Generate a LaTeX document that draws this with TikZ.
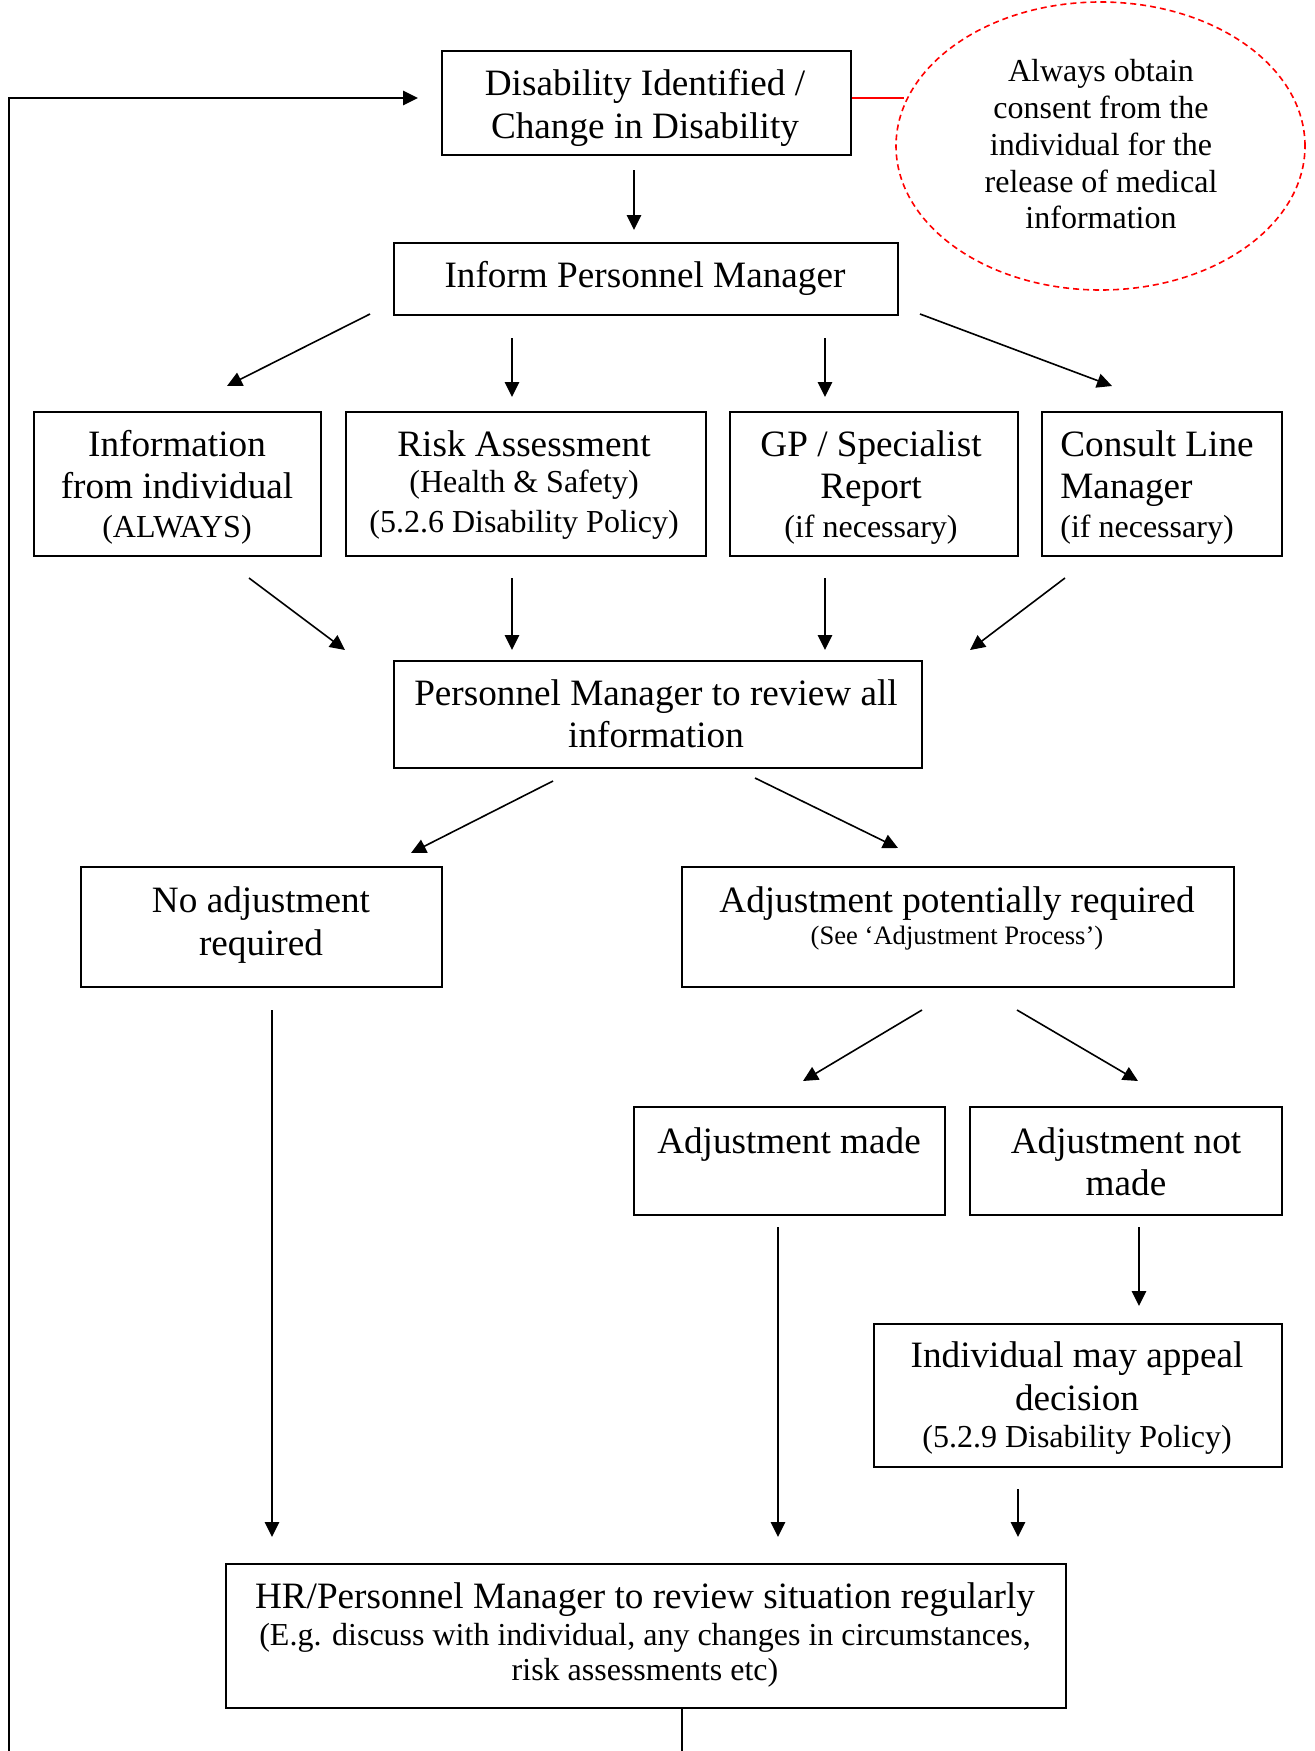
\documentclass[tikz,border=0pt]{standalone}
\usepackage{fontspec}
\setmainfont{Liberation Serif}
\usetikzlibrary{arrows.meta,shapes.geometric}
\begin{document}
\begin{tikzpicture}[x=0.5pt,y=-0.5pt,
  box/.style={draw,line width=1.1pt,rectangle,inner sep=0pt,anchor=north west},
  txt/.style={anchor=base,inner sep=0pt,font=\fontsize{18.6}{22}\selectfont},
  sub/.style={font=\fontsize{16}{19}\selectfont},
  small/.style={font=\fontsize{13.3}{16}\selectfont},
  arr/.style={line width=0.8pt,-{Triangle[length=7.5pt,width=7.2pt]}},
  ln/.style={line width=0.8pt},
  redln/.style={line width=0.9pt,red},
  ell/.style={ellipse,draw=red,dashed,dash pattern=on 3pt off 2pt,line width=0.8pt,inner sep=0pt}]
\useasboundingbox (0,0) rectangle (1314,1751);
\newcommand\pbox[5]{\node[box,minimum width=#4*0.5pt,minimum height=#5*0.5pt] (#1) at (#2,#3) {};}
% boxes
\pbox{b1}{441}{50}{409}{104}
\pbox{b2}{393}{242}{504}{72}
\pbox{b3}{33}{411}{287}{144}
\pbox{b4}{345}{411}{360}{144}
\pbox{b5}{729}{411}{288}{144}
\pbox{b6}{1041}{411}{240}{144}
\pbox{b7}{393}{660}{528}{107}
\pbox{b8}{80}{866}{361}{120}
\pbox{b9}{681}{866}{552}{120}
\pbox{b10}{633}{1106}{311}{108}
\pbox{b11}{969}{1106}{312}{108}
\pbox{b12}{873}{1323}{408}{143}
\pbox{b13}{225}{1563}{840}{144}
\node[ell,minimum width=204.5pt,minimum height=144pt] (el) at (1100.5,146) {};
% texts
\node[txt] (t1a) at (645,95) {Disability Identified /};
\node[txt] (t1b) at (645,138) {Change in Disability};
\node[txt] (t2a) at (645,287) {Inform Personnel Manager};
\node[txt] (t3a) at (177,456) {Information};
\node[txt] (t3b) at (177,498) {from individual};
\node[txt,sub] (t3c) at (177,537) {(ALWAYS)};
\node[txt] (t4a) at (524,456) {Risk Assessment};
\node[txt,sub] (t4b) at (524,492) {(Health \& Safety)};
\node[txt,sub] (t4c) at (524,532) {(5.2.6 Disability Policy)};
\node[txt] (t5a) at (871,456) {GP / Specialist};
\node[txt] (t5b) at (871,498) {Report};
\node[txt,sub] (t5c) at (871,537) {(if necessary)};
\node[txt,anchor=base west] (t6a) at (1060,456) {Consult Line};
\node[txt,anchor=base west] (t6b) at (1060,498) {Manager};
\node[txt,sub,anchor=base west] (t6c) at (1060,537) {(if necessary)};
\node[txt] (t7a) at (656,705) {Personnel Manager to review all};
\node[txt] (t7b) at (656,747) {information};
\node[txt] (t8a) at (261,912) {No adjustment};
\node[txt] (t8b) at (261,955) {required};
\node[txt] (t9a) at (957,912) {Adjustment potentially required};
\node[txt,small] (t9b) at (957,944) {(See ‘Adjustment Process’)};
\node[txt] (t10a) at (789,1153) {Adjustment made};
\node[txt] (t11a) at (1126,1153) {Adjustment not};
\node[txt] (t11b) at (1126,1195) {made};
\node[txt] (t12a) at (1077,1367) {Individual may appeal};
\node[txt] (t12b) at (1077,1410) {decision};
\node[txt,sub] (t12c) at (1077,1447) {(5.2.9 Disability Policy)};
\node[txt] (t13a) at (645,1608) {HR/Personnel Manager to review situation regularly};
\node[txt,sub] (t13b) at (645,1645) {(E.g. discuss with individual, any changes in circumstances,};
\node[txt,sub] (t13c) at (645,1680) {risk assessments etc)};
\node[txt,sub] (te1) at (1101,81) {Always obtain};
\node[txt,sub] (te2) at (1101,118) {consent from the};
\node[txt,sub] (te3) at (1101,155) {individual for the};
\node[txt,sub] (te4) at (1101,192) {release of medical};
\node[txt,sub] (te5) at (1101,228) {information};
% red link
\coordinate (rl) at (904,98);
\draw[redln] (b1.east |- rl) -- (rl);
% arrow end points
\coordinate (a1s) at (634,170);  \coordinate (a1e) at (634,230);
\coordinate (a2s) at (370,314);  \coordinate (a2e) at (227,386);
\coordinate (a3s) at (512,338);  \coordinate (a3e) at (512,397);
\coordinate (a4s) at (825,338);  \coordinate (a4e) at (825,397);
\coordinate (a5s) at (920,314);  \coordinate (a5e) at (1112,386);
\coordinate (a6s) at (249,578);  \coordinate (a6e) at (345,650);
\coordinate (a7s) at (512,578);  \coordinate (a7e) at (512,650);
\coordinate (a8s) at (825,578);  \coordinate (a8e) at (825,650);
\coordinate (a9s) at (1065,578); \coordinate (a9e) at (970,650);
\coordinate (a10s) at (553,781); \coordinate (a10e) at (411,853);
\coordinate (a11s) at (755,778); \coordinate (a11e) at (898,848);
\coordinate (a12s) at (272,1010); \coordinate (a12e) at (272,1537);
\coordinate (a13s) at (922,1010); \coordinate (a13e) at (803,1081);
\coordinate (a14s) at (1017,1010); \coordinate (a14e) at (1138,1081);
\coordinate (a15s) at (778,1227); \coordinate (a15e) at (778,1537);
\coordinate (a16s) at (1139,1227); \coordinate (a16e) at (1139,1306);
\coordinate (a17s) at (1018,1489); \coordinate (a17e) at (1018,1537);
\foreach \i in {1,...,17} \draw[arr] (a\i s) -- (a\i e);
% feedback loop
\coordinate (fbB) at (9,1751);
\coordinate (fbT) at (9,98);
\coordinate (fbE) at (418,98);
\draw[arr,line width=1pt] (fbB) -- (fbT) -- (fbE);
\coordinate (bt) at (682,1751);
\draw[ln] (bt |- b13.south) -- (bt);
\end{tikzpicture}
\end{document}
